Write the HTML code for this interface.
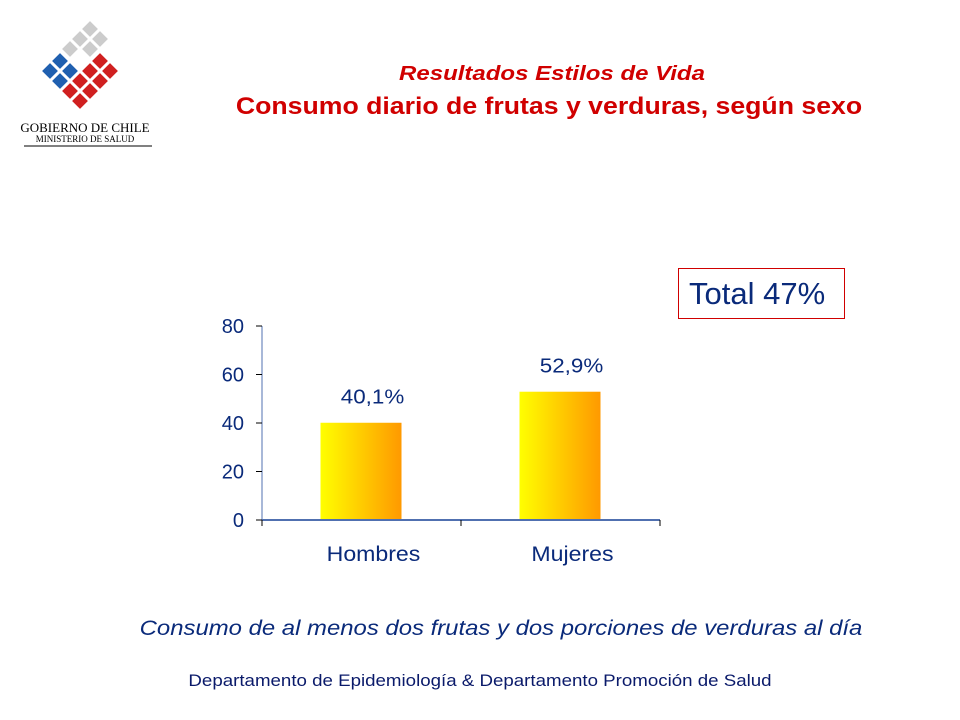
<!DOCTYPE html>
<html><head><meta charset="utf-8"><style>
body{margin:0;background:#fff;font-family:"Liberation Sans",sans-serif}
#page{position:relative;width:960px;height:720px;overflow:hidden;background:#fff}
.t{position:absolute;white-space:nowrap}
.c{position:absolute;white-space:nowrap;width:1000px;text-align:center}
</style></head><body>
<div id="page">
<svg class="t" style="left:20px;top:15px" width="140" height="135">
<g id="cubes"></g>
<text x="65" y="117" text-anchor="middle" font-family="Liberation Serif" font-size="13" fill="#000">GOBIERNO DE CHILE</text>
<text x="65" y="127" text-anchor="middle" font-family="Liberation Serif" font-size="9" fill="#000">MINISTERIO DE SALUD</text>
<line x1="4" y1="131" x2="132" y2="131" stroke="#000" stroke-width="1"/>
</svg>
<div class="c" style="left:52px;top:63px;color:#d00000;font-weight:bold;font-style:italic;font-size:20px;transform:scaleX(1.2)">Resultados Estilos de Vida</div>
<div class="c" style="left:49px;top:93px;color:#d00000;font-weight:bold;font-size:24px;transform:scaleX(1.11)">Consumo diario de frutas y verduras, según sexo</div>
<div class="t" style="left:678px;top:268px;width:167px;height:51px;border:1px solid #d00000;box-sizing:border-box;color:#0a2a7a;font-size:31px;line-height:49px;padding-left:10px">Total 47%</div>
<svg class="t" style="left:0;top:0" width="960" height="720" id="chart"></svg>
<div class="c" style="left:1px;top:617px;color:#0a2a7a;font-style:italic;font-size:21px;transform:scaleX(1.138)">Consumo de al menos dos frutas y dos porciones de verduras al día</div>
<div class="c" style="left:-20px;top:671px;color:#0a1a6a;font-size:17px;transform:scaleX(1.1)">Departamento de Epidemiología &amp; Departamento Promoción de Salud</div>
</div>
<script>
const categories=["Hombres","Mujeres"];
const values=[40.1,52.9];
const valueLabels=["40,1%","52,9%"];
const yTicks=[0,20,40,60,80];
const NS="http://www.w3.org/2000/svg";
const svg=document.getElementById('chart');
const x0=262,x1=660,y0=520,y80=326;
const yS=v=>y0-(v/80)*(y0-y80);
const bw=(x1-x0)/categories.length;
const xC=i=>x0+bw*(i+0.5);
function mk(t,a,p){const e=document.createElementNS(NS,t);for(const k in a)e.setAttribute(k,a[k]);(p||svg).appendChild(e);return e;}
const defs=mk('defs',{});
const g=mk('linearGradient',{id:'gr',x1:'0',x2:'1',y1:'0',y2:'0'},defs);
mk('stop',{offset:'0','stop-color':'#ffff00'},g);mk('stop',{offset:'1','stop-color':'#ff9900'},g);
const ax=mk('line',{x1:x0,y1:y80,x2:x0,y2:y0,stroke:'#5070b0','stroke-width':1});

yTicks.forEach(v=>{
 const tk=mk('line',{x1:x0-6,x2:x0,y1:yS(v),y2:yS(v),stroke:'#000'});
 
 const tx=mk('text',{x:244,y:yS(v)+7,'text-anchor':'end','font-size':20,fill:'#0a2a7a'});
 tx.textContent=v;
});
categories.forEach((c,i)=>{
 const r=mk('rect',{x:xC(i)-41,y:yS(values[i]),width:81,height:y0-yS(values[i]),fill:'url(#gr)'});
 
 const l=mk('text',{x:xC(i)+11,y:yS(values[i])-19,'text-anchor':'middle','font-size':20,fill:'#0a2a7a',transform:'translate('+(xC(i)+11)+' 0) scale(1.12 1) translate('+(-(xC(i)+11))+' 0)'});
 l.textContent=valueLabels[i];
 const cl=mk('text',{x:xC(i)+12,y:561,'text-anchor':'middle','font-size':21,fill:'#0a2a7a',transform:'translate('+(xC(i)+12)+' 0) scale(1.1 1) translate('+(-(xC(i)+12))+' 0)'});
 cl.textContent=c;
});
const xa=mk('line',{x1:x0,y1:y0,x2:x1,y2:y0,stroke:'#5070b0','stroke-width':2});

[0,1,2].forEach(i=>{const t=mk('line',{x1:x0+bw*i,x2:x0+bw*i,y1:y0,y2:y0+6,stroke:'#000'});
 });
const cg=document.getElementById('cubes');
const cubes=[[70,14,'#ccc'],[60,24,'#ccc'],[80,24,'#ccc'],[50,34,'#ccc'],[70,34,'#ccc'],
[40,46,'#2060b0'],[30,56,'#2060b0'],[50,56,'#2060b0'],[40,66,'#2060b0'],
[80,46,'#d02020'],[90,56,'#d02020'],[70,56,'#d02020'],[60,66,'#d02020'],[80,66,'#d02020'],[50,76,'#d02020'],[70,76,'#d02020'],[60,86,'#d02020']];
cubes.forEach(([x,y,c])=>{const r=document.createElementNS(NS,'rect');
 r.setAttribute('x',x-6);r.setAttribute('y',y-6);r.setAttribute('width',12);r.setAttribute('height',12);
 r.setAttribute('fill',c);r.setAttribute('stroke','#fff');r.setAttribute('stroke-width','0.8');
 r.setAttribute('transform','rotate(45 '+x+' '+y+')');cg.appendChild(r);});
</script>
</body></html>
